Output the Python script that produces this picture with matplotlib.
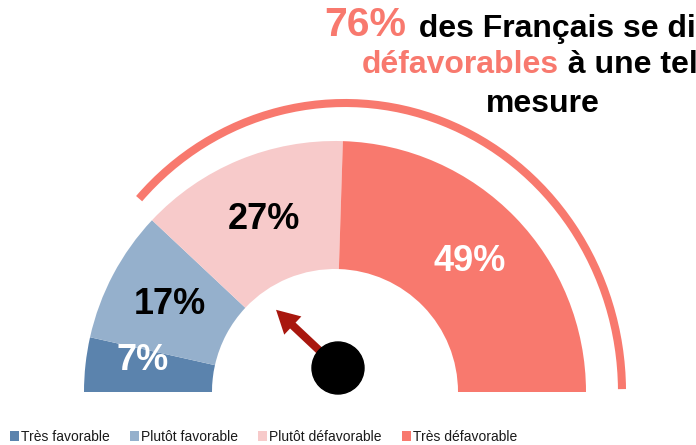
import numpy as np
import matplotlib.pyplot as plt
from matplotlib import font_manager
from matplotlib.patches import Wedge, Arc, Circle, Patch

# Data
categories = ["Très favorable", "Plutôt favorable", "Plutôt défavorable", "Très défavorable"]
shares = [7, 17, 27, 49]
colors = ["#5b83ad", "#95b0cc", "#f7caca", "#f8796e"]
label_colors = ["white", "black", "black", "white"]
unfavorable_total = 76
headline_pct = "76%"

SALMON = "#f8796e"
NEEDLE = "#a8170e"

names = {f.name for f in font_manager.fontManager.ttflist}
base_font = "Liberation Sans" if "Liberation Sans" in names else "DejaVu Sans"
narrow = "Liberation Sans Narrow" in names
legend_font = "Liberation Sans Narrow" if narrow else base_font
legend_size = 12 if narrow else 10
plt.rcParams["font.family"] = [base_font, "DejaVu Sans"]

W, H = 696, 445
fig = plt.figure(figsize=(W / 100, H / 100), dpi=100)
ax = fig.add_axes([0, 0, 1, 1])
ax.set_xlim(0, W)
ax.set_ylim(0, H)
ax.axis("off")

# gauge geometry (pixel units, y upwards)
cx, cy = 335, 53
r_out, r_in = 251, 123


def pct_to_deg(p):
    return 180 - 1.8 * p


cum = np.concatenate([[0], np.cumsum(shares)])
for i, (val, col) in enumerate(zip(shares, colors)):
    a_start = pct_to_deg(cum[i + 1])
    a_end = pct_to_deg(cum[i])
    ax.add_patch(Wedge((cx, cy), r_out, a_start, a_end, width=r_out - r_in,
                       facecolor=col, edgecolor="none"))
    mid = max((cum[i] + cum[i + 1]) / 2, 5.5)
    ang = np.deg2rad(pct_to_deg(mid))
    r_lab = (r_out + r_in) / 2 + 8 * (mid == 5.5)
    ax.text(cx + r_lab * np.cos(ang), cy + r_lab * np.sin(ang) - 2 * (mid == 5.5),
            f"{val}%", ha="center", va="center", fontsize=26,
            fontweight="bold", color=label_colors[i])

# outer arc over the unfavorable share
fav_total = 100 - unfavorable_total
ax.add_patch(Arc((345, 53), 554, 578, theta1=0.6, theta2=pct_to_deg(fav_total),
                 color=SALMON, linewidth=5.8))

# needle pointing at the favorable / unfavorable split
nx, ny = 338, 77
ang = np.deg2rad(pct_to_deg(fav_total))
ln = 85
ax.arrow(nx, ny, ln * np.cos(ang), ln * np.sin(ang), width=8, head_width=25,
         head_length=23, length_includes_head=True, color=NEEDLE,
         linewidth=0, zorder=4)
ax.add_patch(Circle((nx, ny), 26, color="black", zorder=5))

# headline (runs past the right edge, as in the original)
t1 = ax.text(324, H - 36, headline_pct, fontsize=29.5, fontweight="bold",
             color=SALMON, va="baseline", ha="left")
ax.annotate(" des Français se disent", xycoords=t1, xy=(1, 0), va="bottom",
            xytext=(3, 0), textcoords="offset points",
            fontsize=23, fontweight="bold", color="black")
t2 = ax.text(362, H - 73, "défavorables", fontsize=23, fontweight="bold",
             color=SALMON, va="baseline", ha="left")
ax.annotate(" à une telle", xycoords=t2, xy=(1, 0), va="bottom",
            fontsize=23, fontweight="bold", color="black")
ax.text(486, H - 112, "mesure", fontsize=23, fontweight="bold",
        color="black", va="baseline", ha="left")

# legend
handles = [Patch(facecolor=c, edgecolor="none") for c in colors]
fig.legend(handles, categories, loc="center left",
           bbox_to_anchor=(10 / W, 8 / H), ncol=4, frameon=False,
           prop={"family": legend_font, "size": legend_size},
           handlelength=0.65, handleheight=0.65, handletextpad=0.15,
           columnspacing=1.45, borderpad=0, borderaxespad=0,
           labelcolor="#1a1a1a")

fig.savefig("out.png", dpi=100)
